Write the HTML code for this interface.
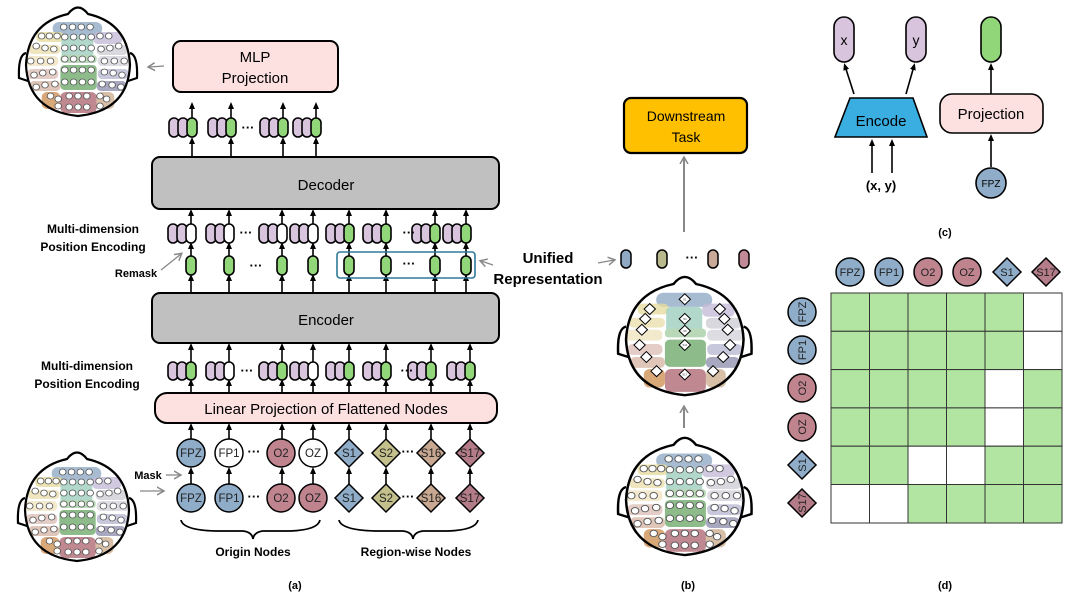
<!DOCTYPE html>
<html><head><meta charset="utf-8"><style>
html,body{margin:0;padding:0;background:#fff;}
svg{display:block;font-family:"Liberation Sans",sans-serif;}
.b{font-weight:bold;}
</style></head><body>
<svg width="1080" height="598" viewBox="0 0 1080 598" xmlns="http://www.w3.org/2000/svg">
<defs>
<marker id="ah" markerWidth="8" markerHeight="8" refX="4" refY="4" orient="auto" markerUnits="userSpaceOnUse"><path d="M0,1 L7,4 L0,7 Z" fill="#000"/></marker>
<marker id="gh" markerWidth="10" markerHeight="10" refX="6" refY="5" orient="auto" markerUnits="userSpaceOnUse"><path d="M0,1 L7,5 L0,9" fill="none" stroke="#888" stroke-width="1.5"/></marker>
<g id="regions0">
<rect x="37" y="19" width="45" height="13" rx="6" fill="#9db4cc" opacity=".9"/>
<rect x="22" y="29" width="25" height="10" rx="4" fill="#e6dca0" opacity=".8"/>
<rect x="45" y="32" width="29" height="24" rx="4" fill="#a8d4c4" opacity=".9"/>
<rect x="74" y="29" width="26" height="12" rx="4" fill="#c4bcd8" opacity=".8"/>
<rect x="15" y="42" width="29" height="9" rx="4" fill="#ebe0b0" opacity=".8"/>
<rect x="77" y="42" width="28" height="10" rx="4" fill="#d6d4dc" opacity=".9"/>
<rect x="44" y="52" width="33" height="8" rx="3" fill="#b8d8b8"/>
<rect x="12" y="53" width="30" height="10" rx="4" fill="#f0e4c0" opacity=".8"/>
<rect x="78" y="53" width="30" height="10" rx="4" fill="#dcdce2"/>
<rect x="44" y="62" width="33" height="25" rx="4" fill="#8dbb8a"/>
<rect x="14" y="66" width="28" height="10" rx="4" fill="#e0c8c0" opacity=".9"/>
<rect x="78" y="66" width="28" height="10" rx="4" fill="#c8c8dc"/>
<rect x="16" y="78" width="28" height="10" rx="4" fill="#dcc0b0" opacity=".9"/>
<rect x="77" y="78" width="27" height="10" rx="4" fill="#a8a8c0"/>
<rect x="27" y="89" width="17" height="17" rx="5" fill="#d8a878"/>
<rect x="44" y="89" width="33" height="21" rx="5" fill="#c08890"/>
<rect x="77" y="89" width="16" height="17" rx="5" fill="#d8c0a8"/>
</g>
<g id="regions"><use href="#regions0" transform="translate(60,0) scale(1.1,1) translate(-60,0)"/></g>
<path id="head" d="M50,11 Q60,-2 70,11 Q110,20 112,62 Q110,108 60,113 Q10,108 8,62 Q10,20 50,11 Z M8,50 Q0,52 1,75 L10,78 M112,50 Q120,52 119,75 L110,78" fill="none" stroke="#000" stroke-width="2.2"/>
<g id="elec0" fill="#fff" stroke="#555" stroke-width=".8">
<circle cx="47" cy="24" r="3"/><circle cx="55" cy="24" r="3"/><circle cx="63" cy="24" r="3"/><circle cx="71" cy="24" r="3"/>
<circle cx="27" cy="33" r="3"/><circle cx="34" cy="33" r="3"/><circle cx="41" cy="33" r="3"/><circle cx="48" cy="34" r="3"/><circle cx="56" cy="34" r="3"/><circle cx="64" cy="34" r="3"/><circle cx="72" cy="34" r="3"/><circle cx="80" cy="33" r="3"/><circle cx="88" cy="33" r="3"/>
<circle cx="22" cy="43" r="3"/><circle cx="30" cy="45" r="3"/><circle cx="38" cy="46" r="3"/><circle cx="48" cy="45" r="3"/><circle cx="56" cy="45" r="3"/><circle cx="64" cy="45" r="3"/><circle cx="72" cy="45" r="3"/><circle cx="81" cy="46" r="3"/><circle cx="89" cy="45" r="3"/><circle cx="97" cy="43" r="3"/>
<circle cx="17" cy="58" r="3"/><circle cx="26" cy="58" r="3"/><circle cx="35" cy="58" r="3"/><circle cx="48" cy="56" r="3"/><circle cx="56" cy="56" r="3"/><circle cx="64" cy="56" r="3"/><circle cx="72" cy="56" r="3"/><circle cx="84" cy="58" r="3"/><circle cx="93" cy="58" r="3"/><circle cx="102" cy="58" r="3"/>
<circle cx="20" cy="72" r="3"/><circle cx="28" cy="70" r="3"/><circle cx="37" cy="69" r="3"/><circle cx="48" cy="67" r="3"/><circle cx="56" cy="67" r="3"/><circle cx="64" cy="67" r="3"/><circle cx="72" cy="67" r="3"/><circle cx="84" cy="69" r="3"/><circle cx="92" cy="70" r="3"/><circle cx="100" cy="72" r="3"/>
<circle cx="22" cy="84" r="3"/><circle cx="30" cy="82" r="3"/><circle cx="39" cy="81" r="3"/><circle cx="48" cy="79" r="3"/><circle cx="56" cy="79" r="3"/><circle cx="64" cy="79" r="3"/><circle cx="72" cy="79" r="3"/><circle cx="82" cy="81" r="3"/><circle cx="91" cy="82" r="3"/><circle cx="99" cy="84" r="3"/>
<circle cx="35" cy="93" r="3"/><circle cx="42" cy="96" r="3"/><circle cx="52" cy="93" r="3"/><circle cx="60" cy="93" r="3"/><circle cx="68" cy="93" r="3"/><circle cx="80" cy="93" r="3"/><circle cx="86" cy="96" r="3"/>
<circle cx="42" cy="103" r="3"/><circle cx="52" cy="104" r="3"/><circle cx="60" cy="104" r="3"/><circle cx="68" cy="104" r="3"/><circle cx="80" cy="103" r="3"/>
</g>
<g id="elec"><use href="#elec0" transform="translate(60,0) scale(1.1,1) translate(-60,0)"/></g>
</defs>

<!-- brains -->
<g transform="translate(18,3)"><use href="#regions"/><use href="#elec"/><use href="#head"/></g>
<g transform="translate(17,448)"><use href="#regions"/><use href="#elec"/><use href="#head"/></g>
<g transform="translate(617,433) scale(1.13,1.08)"><use href="#regions"/><use href="#elec"/><use href="#head"/></g>
<g transform="translate(617,272) scale(1.13,1.09)"><use href="#regions"/><use href="#head"/>
<g fill="#fff" stroke="#000" stroke-width=".9">
<path d="M60,20 l5,5 -5,5 -5,-5z"/><path d="M29,29 l5,5 -5,5 -5,-5z"/><path d="M25,38 l5,5 -5,5 -5,-5z"/><path d="M60,38 l5,5 -5,5 -5,-5z"/><path d="M91,29 l5,5 -5,5 -5,-5z"/><path d="M95,38 l5,5 -5,5 -5,-5z"/>
<path d="M22,48 l5,5 -5,5 -5,-5z"/><path d="M60,49 l5,5 -5,5 -5,-5z"/><path d="M98,48 l5,5 -5,5 -5,-5z"/>
<path d="M20,62 l5,5 -5,5 -5,-5z"/><path d="M60,62 l5,5 -5,5 -5,-5z"/><path d="M100,62 l5,5 -5,5 -5,-5z"/>
<path d="M26,73 l5,5 -5,5 -5,-5z"/><path d="M94,73 l5,5 -5,5 -5,-5z"/>
<path d="M35,86 l5,5 -5,5 -5,-5z"/><path d="M60,89 l5,5 -5,5 -5,-5z"/><path d="M85,86 l5,5 -5,5 -5,-5z"/>
</g>
<g font-size="2.5" text-anchor="middle" fill="#333"><text x="60" y="26">S1</text><text x="60" y="44">S3</text><text x="60" y="55">S8</text><text x="60" y="68">S11</text><text x="60" y="95">S17</text></g>
</g>

<!-- (a) boxes -->
<rect x="173" y="41" width="165" height="51" rx="8" fill="#fde0e0" stroke="#000" stroke-width="2"/>
<text x="255" y="62" font-size="15" text-anchor="middle">MLP</text>
<text x="255" y="83" font-size="15" text-anchor="middle">Projection</text>
<rect x="152" y="157" width="347" height="52" rx="8" fill="#c0c0c0" stroke="#000" stroke-width="2"/>
<text x="326" y="190" font-size="15" text-anchor="middle">Decoder</text>
<rect x="152" y="293" width="347" height="50" rx="8" fill="#c0c0c0" stroke="#000" stroke-width="2"/>
<text x="326" y="325" font-size="15" text-anchor="middle">Encoder</text>
<rect x="155" y="393" width="342" height="30" rx="12" fill="#fde0e0" stroke="#000" stroke-width="2"/>
<text x="326" y="414" font-size="15" text-anchor="middle">Linear Projection of Flattened Nodes</text>

<!-- arrows (a) -->
<g stroke="#000" stroke-width="1.6" marker-end="url(#ah)">
<line x1="192" y1="118" x2="192" y2="105"/><line x1="231" y1="118" x2="231" y2="105"/><line x1="283" y1="118" x2="283" y2="105"/><line x1="316" y1="118" x2="316" y2="105"/>
<line x1="192" y1="157" x2="192" y2="140"/><line x1="231" y1="157" x2="231" y2="140"/><line x1="283" y1="157" x2="283" y2="140"/><line x1="316" y1="157" x2="316" y2="140"/>
</g>
<g stroke="#000" stroke-width="1.6" marker-end="url(#ah)">
<line x1="191" y1="224" x2="191" y2="212"/><line x1="229" y1="224" x2="229" y2="212"/><line x1="282" y1="224" x2="282" y2="212"/><line x1="313" y1="224" x2="313" y2="212"/><line x1="349" y1="224" x2="349" y2="212"/><line x1="386" y1="224" x2="386" y2="212"/><line x1="435" y1="224" x2="435" y2="212"/><line x1="466" y1="224" x2="466" y2="212"/>
<line x1="191" y1="256" x2="191" y2="245"/><line x1="229" y1="256" x2="229" y2="245"/><line x1="282" y1="256" x2="282" y2="245"/><line x1="313" y1="256" x2="313" y2="245"/><line x1="349" y1="256" x2="349" y2="245"/><line x1="386" y1="256" x2="386" y2="245"/><line x1="435" y1="256" x2="435" y2="245"/><line x1="466" y1="256" x2="466" y2="245"/>
<line x1="191" y1="293" x2="191" y2="277"/><line x1="229" y1="293" x2="229" y2="277"/><line x1="282" y1="293" x2="282" y2="277"/><line x1="313" y1="293" x2="313" y2="277"/><line x1="349" y1="293" x2="349" y2="277"/><line x1="386" y1="293" x2="386" y2="277"/><line x1="435" y1="293" x2="435" y2="277"/><line x1="466" y1="293" x2="466" y2="277"/>
<line x1="191" y1="362" x2="191" y2="346"/><line x1="229" y1="362" x2="229" y2="346"/><line x1="282" y1="362" x2="282" y2="346"/><line x1="313" y1="362" x2="313" y2="346"/><line x1="349" y1="362" x2="349" y2="346"/><line x1="386" y1="362" x2="386" y2="346"/><line x1="431" y1="362" x2="431" y2="346"/><line x1="470" y1="362" x2="470" y2="346"/>
<line x1="191" y1="393" x2="191" y2="382"/><line x1="229" y1="393" x2="229" y2="382"/><line x1="282" y1="393" x2="282" y2="382"/><line x1="313" y1="393" x2="313" y2="382"/><line x1="349" y1="393" x2="349" y2="382"/><line x1="386" y1="393" x2="386" y2="382"/><line x1="431" y1="393" x2="431" y2="382"/><line x1="470" y1="393" x2="470" y2="382"/>
<line x1="191" y1="439" x2="191" y2="426"/><line x1="229" y1="439" x2="229" y2="426"/><line x1="282" y1="439" x2="282" y2="426"/><line x1="313" y1="439" x2="313" y2="426"/><line x1="349" y1="439" x2="349" y2="426"/><line x1="386" y1="439" x2="386" y2="426"/><line x1="431" y1="439" x2="431" y2="426"/><line x1="470" y1="439" x2="470" y2="426"/>
<line x1="191" y1="484" x2="191" y2="470"/><line x1="229" y1="484" x2="229" y2="470"/><line x1="282" y1="484" x2="282" y2="470"/><line x1="313" y1="484" x2="313" y2="470"/><line x1="349" y1="484" x2="349" y2="470"/><line x1="386" y1="484" x2="386" y2="470"/><line x1="431" y1="484" x2="431" y2="470"/><line x1="470" y1="484" x2="470" y2="470"/>
</g>

<!-- pill groups -->
<g stroke="#000" stroke-width="1.6">
<g transform="translate(0,118)">
<g transform="translate(192,0)"><rect x="-23" width="10" height="19" rx="5" fill="#d8c4dc"/><rect x="-14" width="10" height="19" rx="5" fill="#d8c4dc"/><rect x="-5" width="10" height="19" rx="5" fill="#92d67a"/></g>
<g transform="translate(231,0)"><rect x="-23" width="10" height="19" rx="5" fill="#d8c4dc"/><rect x="-14" width="10" height="19" rx="5" fill="#d8c4dc"/><rect x="-5" width="10" height="19" rx="5" fill="#92d67a"/></g>
<g transform="translate(283,0)"><rect x="-23" width="10" height="19" rx="5" fill="#d8c4dc"/><rect x="-14" width="10" height="19" rx="5" fill="#d8c4dc"/><rect x="-5" width="10" height="19" rx="5" fill="#92d67a"/></g>
<g transform="translate(316,0)"><rect x="-23" width="10" height="19" rx="5" fill="#d8c4dc"/><rect x="-14" width="10" height="19" rx="5" fill="#d8c4dc"/><rect x="-5" width="10" height="19" rx="5" fill="#92d67a"/></g>
</g>
<g transform="translate(0,224)">
<g transform="translate(191,0)"><rect x="-23" width="10" height="19" rx="5" fill="#d8c4dc"/><rect x="-14" width="10" height="19" rx="5" fill="#d8c4dc"/><rect x="-5" width="10" height="19" rx="5" fill="#fff"/></g>
<g transform="translate(229,0)"><rect x="-23" width="10" height="19" rx="5" fill="#d8c4dc"/><rect x="-14" width="10" height="19" rx="5" fill="#d8c4dc"/><rect x="-5" width="10" height="19" rx="5" fill="#fff"/></g>
<g transform="translate(282,0)"><rect x="-23" width="10" height="19" rx="5" fill="#d8c4dc"/><rect x="-14" width="10" height="19" rx="5" fill="#d8c4dc"/><rect x="-5" width="10" height="19" rx="5" fill="#fff"/></g>
<g transform="translate(313,0)"><rect x="-23" width="10" height="19" rx="5" fill="#d8c4dc"/><rect x="-14" width="10" height="19" rx="5" fill="#d8c4dc"/><rect x="-5" width="10" height="19" rx="5" fill="#fff"/></g>
<g transform="translate(349,0)"><rect x="-23" width="10" height="19" rx="5" fill="#d8c4dc"/><rect x="-14" width="10" height="19" rx="5" fill="#d8c4dc"/><rect x="-5" width="10" height="19" rx="5" fill="#92d67a"/></g>
<g transform="translate(386,0)"><rect x="-23" width="10" height="19" rx="5" fill="#d8c4dc"/><rect x="-14" width="10" height="19" rx="5" fill="#d8c4dc"/><rect x="-5" width="10" height="19" rx="5" fill="#92d67a"/></g>
<g transform="translate(435,0)"><rect x="-23" width="10" height="19" rx="5" fill="#d8c4dc"/><rect x="-14" width="10" height="19" rx="5" fill="#d8c4dc"/><rect x="-5" width="10" height="19" rx="5" fill="#92d67a"/></g>
<g transform="translate(466,0)"><rect x="-23" width="10" height="19" rx="5" fill="#d8c4dc"/><rect x="-14" width="10" height="19" rx="5" fill="#d8c4dc"/><rect x="-5" width="10" height="19" rx="5" fill="#92d67a"/></g>
</g>
<g fill="#92d67a">
<rect x="186" y="256" width="10" height="19" rx="5"/><rect x="224" y="256" width="10" height="19" rx="5"/><rect x="277" y="256" width="10" height="19" rx="5"/><rect x="308" y="256" width="10" height="19" rx="5"/><rect x="344" y="256" width="10" height="19" rx="5"/><rect x="381" y="256" width="10" height="19" rx="5"/><rect x="430" y="256" width="10" height="19" rx="5"/><rect x="461" y="256" width="10" height="19" rx="5"/>
</g>
<g transform="translate(0,362)">
<g transform="translate(191,0)"><rect x="-23" width="10" height="18" rx="5" fill="#d8c4dc"/><rect x="-14" width="10" height="18" rx="5" fill="#d8c4dc"/><rect x="-5" width="10" height="18" rx="5" fill="#92d67a"/></g>
<g transform="translate(229,0)"><rect x="-23" width="10" height="18" rx="5" fill="#d8c4dc"/><rect x="-14" width="10" height="18" rx="5" fill="#d8c4dc"/><rect x="-5" width="10" height="18" rx="5" fill="#fff"/></g>
<g transform="translate(282,0)"><rect x="-23" width="10" height="18" rx="5" fill="#d8c4dc"/><rect x="-14" width="10" height="18" rx="5" fill="#d8c4dc"/><rect x="-5" width="10" height="18" rx="5" fill="#92d67a"/></g>
<g transform="translate(313,0)"><rect x="-23" width="10" height="18" rx="5" fill="#d8c4dc"/><rect x="-14" width="10" height="18" rx="5" fill="#d8c4dc"/><rect x="-5" width="10" height="18" rx="5" fill="#fff"/></g>
<g transform="translate(349,0)"><rect x="-23" width="10" height="18" rx="5" fill="#d8c4dc"/><rect x="-14" width="10" height="18" rx="5" fill="#d8c4dc"/><rect x="-5" width="10" height="18" rx="5" fill="#92d67a"/></g>
<g transform="translate(386,0)"><rect x="-23" width="10" height="18" rx="5" fill="#d8c4dc"/><rect x="-14" width="10" height="18" rx="5" fill="#d8c4dc"/><rect x="-5" width="10" height="18" rx="5" fill="#92d67a"/></g>
<g transform="translate(431,0)"><rect x="-23" width="10" height="18" rx="5" fill="#d8c4dc"/><rect x="-14" width="10" height="18" rx="5" fill="#d8c4dc"/><rect x="-5" width="10" height="18" rx="5" fill="#92d67a"/></g>
<g transform="translate(470,0)"><rect x="-23" width="10" height="18" rx="5" fill="#d8c4dc"/><rect x="-14" width="10" height="18" rx="5" fill="#d8c4dc"/><rect x="-5" width="10" height="18" rx="5" fill="#92d67a"/></g>
</g>
</g>
<rect x="337" y="252" width="138" height="26" rx="3" fill="none" stroke="#2e7a9a" stroke-width="1.6"/>

<g font-size="13" font-weight="bold" text-anchor="middle">
<text x="248" y="132">···</text><text x="246" y="237">···</text><text x="409" y="237">···</text><text x="256" y="270">···</text><text x="409" y="268">···</text>
<text x="247" y="375">···</text><text x="407" y="375">···</text><text x="254" y="456">···</text><text x="408" y="456">···</text><text x="254" y="501">···</text><text x="408" y="501">···</text>
<text x="692" y="262">···</text>
</g>

<g stroke="#000" stroke-width="1.5">
<circle cx="191" cy="453" r="14" fill="#8fadc8"/><circle cx="229" cy="453" r="14" fill="#fff"/><circle cx="281" cy="453" r="14" fill="#c0848e"/><circle cx="313" cy="453" r="14" fill="#fff"/>
<path d="M349,439 l14,14 -14,14 -14,-14z" fill="#8fadc8"/><path d="M386,439 l14,14 -14,14 -14,-14z" fill="#c4c08c"/><path d="M431,439 l14,14 -14,14 -14,-14z" fill="#c8a890"/><path d="M470,439 l14,14 -14,14 -14,-14z" fill="#b47c88"/>
<circle cx="191" cy="498" r="14" fill="#8fadc8"/><circle cx="229" cy="498" r="14" fill="#8fadc8"/><circle cx="281" cy="498" r="14" fill="#c0848e"/><circle cx="313" cy="498" r="14" fill="#c0848e"/>
<path d="M349,484 l14,14 -14,14 -14,-14z" fill="#8fadc8"/><path d="M386,484 l14,14 -14,14 -14,-14z" fill="#c4c08c"/><path d="M431,484 l14,14 -14,14 -14,-14z" fill="#c8a890"/><path d="M470,484 l14,14 -14,14 -14,-14z" fill="#b47c88"/>
</g>
<g font-size="11.5" text-anchor="middle" fill="#222">
<text x="191" y="457">FPZ</text><text x="229" y="457">FP1</text><text x="281" y="457">O2</text><text x="313" y="457">OZ</text><text x="349" y="457">S1</text><text x="386" y="457">S2</text><text x="431" y="457">S16</text><text x="470" y="457">S17</text>
<text x="191" y="502">FPZ</text><text x="229" y="502">FP1</text><text x="281" y="502">O2</text><text x="313" y="502">OZ</text><text x="349" y="502">S1</text><text x="386" y="502">S2</text><text x="431" y="502">S16</text><text x="470" y="502">S17</text>
</g>

<g fill="none" stroke="#000" stroke-width="1.8">
<path d="M181,520 Q183,530 215,531 L243,531 Q252,532 253,539 Q254,532 263,531 L290,531 Q318,530 320,520"/>
<path d="M339,520 Q341,530 375,531 L403,531 Q412,532 413,539 Q414,532 423,531 L448,531 Q476,530 478,520"/>
</g>

<g class="b" font-size="12" text-anchor="middle">
<text x="93" y="233">Multi-dimension</text><text x="93" y="251">Position Encoding</text>
<text x="87" y="370">Multi-dimension</text><text x="87" y="388">Position Encoding</text>
<text x="253" y="556">Origin Nodes</text><text x="416" y="556">Region-wise Nodes</text>
</g>
<text x="136" y="277" class="b" font-size="11" text-anchor="middle">Remask</text>
<text x="148" y="479" class="b" font-size="11" text-anchor="middle">Mask</text>
<g stroke="#888" stroke-width="1.3" marker-end="url(#gh)">
<line x1="161" y1="270" x2="181" y2="254"/>
<line x1="166" y1="475" x2="180" y2="475"/>
<line x1="140" y1="491" x2="163" y2="491"/>
<line x1="164" y1="66" x2="149" y2="67"/>
<line x1="493" y1="265" x2="481" y2="261"/>
<line x1="598" y1="263" x2="614" y2="260"/>
</g>
<line x1="684" y1="232" x2="684" y2="158" stroke="#888" stroke-width="2" marker-end="url(#gh)"/>
<line x1="684" y1="428" x2="684" y2="407" stroke="#888" stroke-width="2" marker-end="url(#gh)"/>
<text x="295" y="589" class="b" font-size="11" text-anchor="middle">(a)</text>

<rect x="624" y="98" width="123" height="55" rx="7" fill="#ffc000" stroke="#000" stroke-width="2.2"/>
<text x="686" y="121" font-size="14" text-anchor="middle">Downstream</text>
<text x="686" y="142" font-size="14" text-anchor="middle">Task</text>
<text x="548" y="263" class="b" font-size="15" text-anchor="middle">Unified</text>
<text x="548" y="284" class="b" font-size="15" text-anchor="middle">Representation</text>
<g stroke="#000" stroke-width="1.5">
<rect x="621" y="250" width="10" height="18" rx="5" fill="#8fa9c4"/><rect x="657" y="250" width="10" height="18" rx="5" fill="#b9b98e"/><rect x="708" y="250" width="10" height="18" rx="5" fill="#c9aa98"/><rect x="739" y="250" width="10" height="18" rx="5" fill="#c08a96"/>
</g>
<text x="688" y="589" class="b" font-size="11" text-anchor="middle">(b)</text>

<g stroke="#000" stroke-width="1.6">
<rect x="834" y="17" width="20" height="45" rx="10" fill="#d8c4dc"/>
<rect x="906" y="17" width="20" height="45" rx="10" fill="#d8c4dc"/>
<rect x="981" y="17" width="20" height="45" rx="10" fill="#92d67a"/>
<path d="M850,98 L913,98 L927,137 L835,137 Z" fill="#3aaee0"/>
<rect x="940" y="94" width="103" height="39" rx="12" fill="#fde0e0"/>
<circle cx="991" cy="183" r="15" fill="#8fadc8"/>
</g>
<g stroke="#000" stroke-width="1.6" marker-end="url(#ah)">
<line x1="854" y1="94" x2="845" y2="66"/><line x1="906" y1="94" x2="914" y2="66"/>
<line x1="991" y1="94" x2="991" y2="66"/><line x1="991" y1="167" x2="991" y2="137"/>
<line x1="872" y1="173" x2="872" y2="142"/><line x1="892" y1="173" x2="892" y2="142"/>
</g>
<g text-anchor="middle">
<text x="844" y="45" font-size="14">x</text><text x="916" y="45" font-size="14">y</text>
<text x="881" y="126" font-size="15">Encode</text>
<text x="991" y="119" font-size="15">Projection</text>
<text x="991" y="187" font-size="10">FPZ</text>
<text x="881" y="190" class="b" font-size="13">(x, y)</text>
<text x="945" y="236" class="b" font-size="11">(c)</text>
<text x="945" y="589" class="b" font-size="11">(d)</text>
</g>

<g stroke="#333" stroke-width="1">
<g fill="#b3e5a2">
<rect x="831" y="293" width="38.5" height="38.3"/><rect x="869.5" y="293" width="38.5" height="38.3"/><rect x="908" y="293" width="38.5" height="38.3"/><rect x="946.5" y="293" width="38.5" height="38.3"/><rect x="985" y="293" width="38.5" height="38.3"/><rect x="1023.5" y="293" width="38.5" height="38.3" fill="#fff"/>
<rect x="831" y="331.3" width="38.5" height="38.3"/><rect x="869.5" y="331.3" width="38.5" height="38.3"/><rect x="908" y="331.3" width="38.5" height="38.3"/><rect x="946.5" y="331.3" width="38.5" height="38.3"/><rect x="985" y="331.3" width="38.5" height="38.3"/><rect x="1023.5" y="331.3" width="38.5" height="38.3" fill="#fff"/>
<rect x="831" y="369.6" width="38.5" height="38.3"/><rect x="869.5" y="369.6" width="38.5" height="38.3"/><rect x="908" y="369.6" width="38.5" height="38.3"/><rect x="946.5" y="369.6" width="38.5" height="38.3"/><rect x="985" y="369.6" width="38.5" height="38.3" fill="#fff"/><rect x="1023.5" y="369.6" width="38.5" height="38.3"/>
<rect x="831" y="407.9" width="38.5" height="38.3"/><rect x="869.5" y="407.9" width="38.5" height="38.3"/><rect x="908" y="407.9" width="38.5" height="38.3"/><rect x="946.5" y="407.9" width="38.5" height="38.3"/><rect x="985" y="407.9" width="38.5" height="38.3" fill="#fff"/><rect x="1023.5" y="407.9" width="38.5" height="38.3"/>
<rect x="831" y="446.2" width="38.5" height="38.3"/><rect x="869.5" y="446.2" width="38.5" height="38.3"/><rect x="908" y="446.2" width="38.5" height="38.3" fill="#fff"/><rect x="946.5" y="446.2" width="38.5" height="38.3" fill="#fff"/><rect x="985" y="446.2" width="38.5" height="38.3"/><rect x="1023.5" y="446.2" width="38.5" height="38.3"/>
<rect x="831" y="484.5" width="38.5" height="38.5" fill="#fff"/><rect x="869.5" y="484.5" width="38.5" height="38.5" fill="#fff"/><rect x="908" y="484.5" width="38.5" height="38.5"/><rect x="946.5" y="484.5" width="38.5" height="38.5"/><rect x="985" y="484.5" width="38.5" height="38.5"/><rect x="1023.5" y="484.5" width="38.5" height="38.5"/>
</g>
</g>
<g stroke="#000" stroke-width="1.5">
<circle cx="850" cy="272" r="14" fill="#8fadc8"/><circle cx="889" cy="272" r="14" fill="#8fadc8"/><circle cx="928" cy="272" r="14" fill="#c0848e"/><circle cx="967" cy="272" r="14" fill="#c0848e"/>
<path d="M1007,258 l14,14 -14,14 -14,-14z" fill="#8fadc8"/><path d="M1046,258 l14,14 -14,14 -14,-14z" fill="#b47c88"/>
<circle cx="802" cy="312" r="14" fill="#8fadc8"/><circle cx="802" cy="350" r="14" fill="#8fadc8"/><circle cx="802" cy="388" r="14" fill="#c0848e"/><circle cx="802" cy="427" r="14" fill="#c0848e"/>
<path d="M802,451 l14,14 -14,14 -14,-14z" fill="#8fadc8"/><path d="M802,489 l14,14 -14,14 -14,-14z" fill="#b47c88"/>
</g>
<g font-size="11" text-anchor="middle" fill="#222">
<text x="850" y="276">FPZ</text><text x="889" y="276">FP1</text><text x="928" y="276">O2</text><text x="967" y="276">OZ</text><text x="1007" y="276">S1</text><text x="1046" y="276">S17</text>
<text transform="translate(806,312) rotate(-90)">FPZ</text><text transform="translate(806,350) rotate(-90)">FP1</text><text transform="translate(806,388) rotate(-90)">O2</text><text transform="translate(806,427) rotate(-90)">OZ</text><text transform="translate(806,465) rotate(-90)">S1</text><text transform="translate(806,503) rotate(-90)">S17</text>
</g>
</svg>
</body></html>
